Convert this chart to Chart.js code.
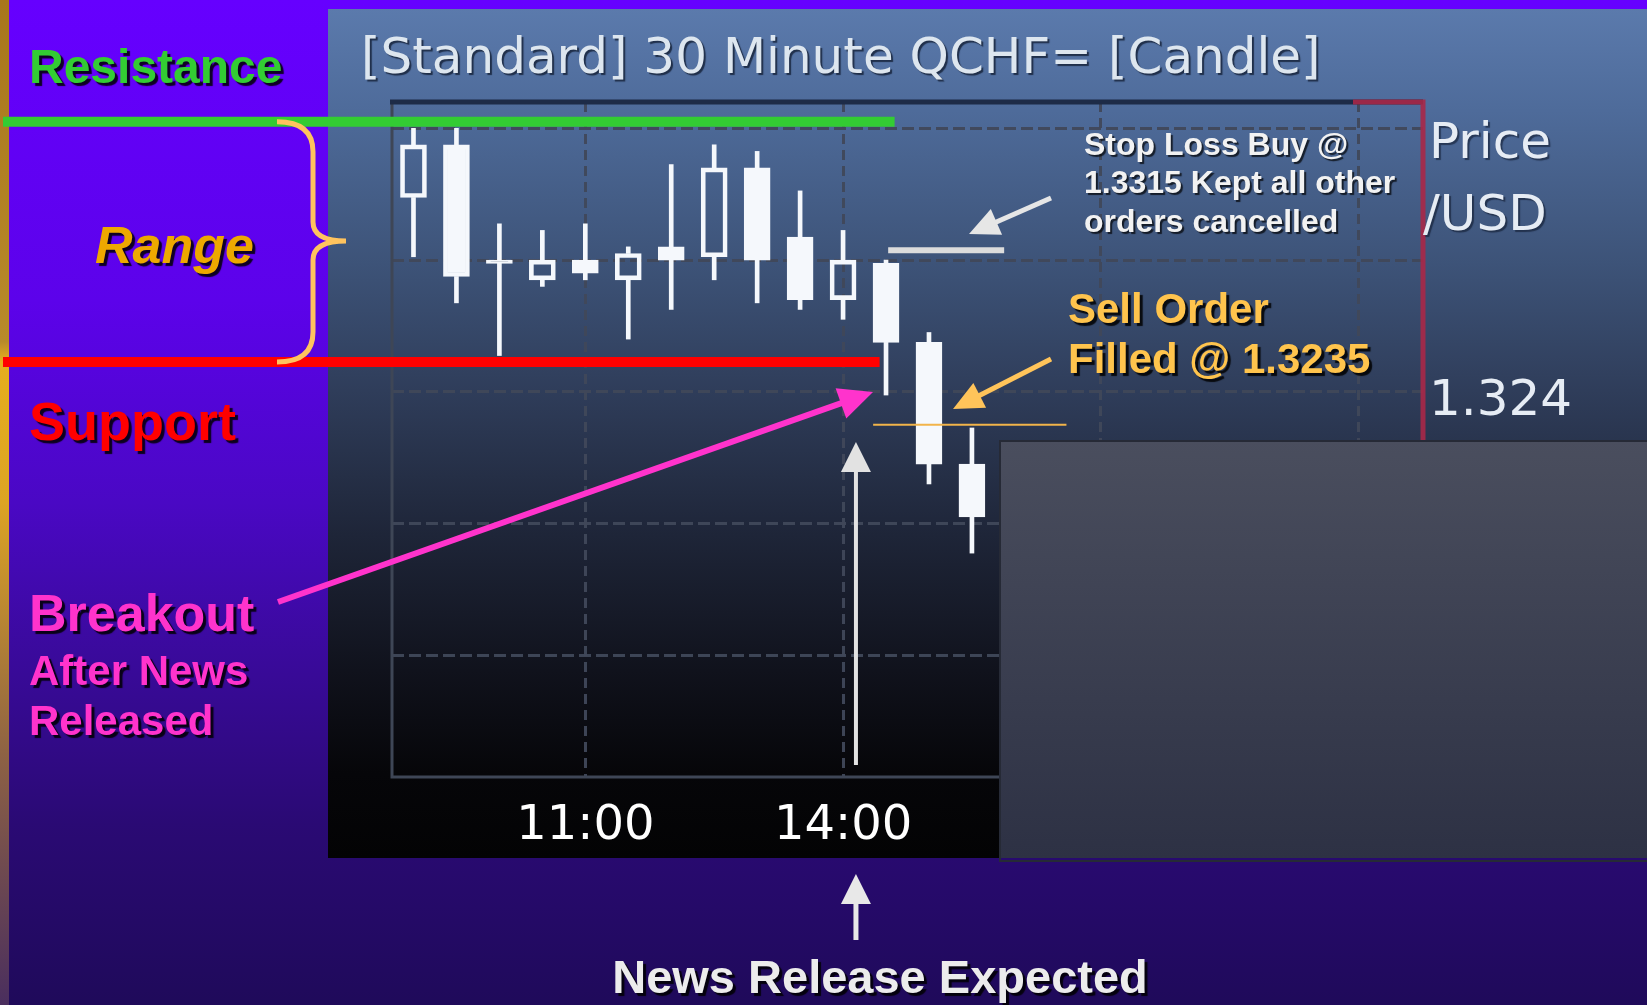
<!DOCTYPE html>
<html>
<head>
<meta charset="utf-8">
<title>30 Minute QCHF= Candle</title>
<script src="https://cdn.jsdelivr.net/npm/chart.js@4.4.1/dist/chart.umd.min.js"></script>
<style>
  html, body { margin: 0; padding: 0; background: #1f0a5a; overflow: hidden; }
  #chart { display: block; }
</style>
</head>
<body>
<canvas id="chart" width="1647" height="1005"></canvas>
<script>
// 30 minute candles, session starts 09:00
var timeLabels = ['09:00', '09:30', '10:00', '10:30', '11:00', '11:30', '12:00', '12:30',
                  '13:00', '13:30', '14:00', '14:30', '15:00', '15:30', '16:00', '16:30',
                  '17:00', '17:30', '18:00', '18:30', '19:00', '19:30', '20:00', '20:30'];
var shownTimes = ['11:00', '14:00', '17:00', '20:00'];

var opens  = [1.3299, 1.3315, 1.3280, 1.3274, 1.3280, 1.3274, 1.3284, 1.3281, 1.3308, 1.3287, 1.3268, 1.3279, 1.3255, 1.3218];
var highs  = [1.3320, 1.3320, 1.3291, 1.3289, 1.3291, 1.3284, 1.3309, 1.3315, 1.3313, 1.3301, 1.3289, 1.3280, 1.3258, 1.3229];
var lows   = [1.3281, 1.3267, 1.3251, 1.3272, 1.3274, 1.3256, 1.3265, 1.3274, 1.3267, 1.3265, 1.3262, 1.3239, 1.3212, 1.3191];
var closes = [1.3315, 1.3275, 1.3279, 1.3280, 1.3276, 1.3282, 1.3280, 1.3308, 1.3280, 1.3268, 1.3280, 1.3255, 1.3218, 1.3202];

var priceTicks = [1.316, 1.320, 1.324, 1.328, 1.332];
var shownPrice = 1.324;

// levels marked on the slide
var resistance = 1.3322;
var support = 1.3249;
var stopLossLevel = 1.3283;
var sellFillLevel = 1.3230;

var candleWhite = '#f5f8fc';
var gridColor = 'rgba(64,72,90,0.95)';

function drawText(ctx, text, x, y, font, color, align, shadowColor, off) {
  ctx.save();
  ctx.font = font;
  ctx.fillStyle = color;
  ctx.textAlign = align || 'left';
  ctx.textBaseline = 'alphabetic';
  ctx.shadowColor = shadowColor || 'rgba(0,0,0,0.85)';
  ctx.shadowOffsetX = off == null ? 3 : off;
  ctx.shadowOffsetY = off == null ? 3 : off;
  ctx.shadowBlur = 1;
  ctx.fillText(text, x, y);
  ctx.restore();
}

function drawArrow(ctx, x1, y1, x2, y2, color, width, headLen, headHalf) {
  var ang = Math.atan2(y2 - y1, x2 - x1);
  var cos = Math.cos(ang), sin = Math.sin(ang);
  var bx = x2 - headLen * cos, by = y2 - headLen * sin;
  ctx.save();
  ctx.strokeStyle = color;
  ctx.fillStyle = color;
  ctx.lineWidth = width;
  ctx.beginPath();
  ctx.moveTo(x1, y1);
  ctx.lineTo(bx + 2 * cos, by + 2 * sin);
  ctx.stroke();
  ctx.beginPath();
  ctx.moveTo(x2, y2);
  ctx.lineTo(bx + headHalf * sin, by - headHalf * cos);
  ctx.lineTo(bx - headHalf * sin, by + headHalf * cos);
  ctx.closePath();
  ctx.fill();
  ctx.restore();
}

var slidePlugin = {
  id: 'slide',
  beforeDraw: function(chart) {
    var ctx = chart.ctx, w = chart.width, h = chart.height;
    ctx.save();
    var bg = ctx.createLinearGradient(0, 0, 0, h);
    bg.addColorStop(0, '#6600ff');
    bg.addColorStop(0.3, '#5c02ea');
    bg.addColorStop(0.5, '#4a08c4');
    bg.addColorStop(0.65, '#3a0a9c');
    bg.addColorStop(0.82, '#2a0a74');
    bg.addColorStop(1, '#1f0a5a');
    ctx.fillStyle = bg;
    ctx.fillRect(0, 0, w, h);

    var gold = ctx.createLinearGradient(0, 0, 0, h);
    gold.addColorStop(0, '#a8761c');
    gold.addColorStop(0.34, '#b88a2a');
    gold.addColorStop(0.36, '#e6ae1e');
    gold.addColorStop(0.5, '#dca424');
    gold.addColorStop(0.75, '#8e6244');
    gold.addColorStop(1, '#4a2e5e');
    ctx.fillStyle = gold;
    ctx.fillRect(0, 0, 9, h);

    // the chart screenshot
    var pg = ctx.createLinearGradient(0, 9, 0, 858);
    pg.addColorStop(0, '#5b7aac');
    pg.addColorStop(0.12, '#4e6b9a');
    pg.addColorStop(0.3, '#3d5378');
    pg.addColorStop(0.45, '#2f3d5a');
    pg.addColorStop(0.62, '#1e2538');
    pg.addColorStop(0.78, '#10121c');
    pg.addColorStop(0.9, '#060609');
    pg.addColorStop(1, '#030304');
    ctx.fillStyle = pg;
    ctx.fillRect(328, 9, w - 328, 849);
    ctx.restore();

    drawText(ctx, '[Standard] 30 Minute QCHF= [Candle]', 361, 73, '50px "DejaVu Sans"',
             '#dde6ef', 'left', 'rgba(15,25,45,0.75)', 2);
  },
  beforeDatasetsDraw: function(chart) {
    var ctx = chart.ctx, a = chart.chartArea;
    ctx.save();
    ctx.lineWidth = 3;
    ctx.strokeStyle = '#3e4656';
    ctx.beginPath();
    ctx.moveTo(a.left, a.top);
    ctx.lineTo(a.left, a.bottom);
    ctx.lineTo(a.right, a.bottom);
    ctx.stroke();
    ctx.lineWidth = 5;
    ctx.strokeStyle = '#1d2b47';
    ctx.beginPath();
    ctx.moveTo(a.left - 2, a.top);
    ctx.lineTo(a.right, a.top);
    ctx.stroke();
    ctx.strokeStyle = 'rgba(168,40,72,0.9)';
    ctx.beginPath();
    ctx.moveTo(a.right - 70, a.top);
    ctx.lineTo(a.right, a.top);
    ctx.lineTo(a.right, a.bottom);
    ctx.stroke();
    ctx.restore();
  },
  afterDraw: function(chart) {
    var ctx = chart.ctx, xs = chart.scales.x, ys = chart.scales.y, w = chart.width;

    // grey panel pasted over the lower right of the screenshot
    ctx.save();
    var box = ctx.createLinearGradient(0, 441, 0, 858);
    box.addColorStop(0, '#4a4e5e');
    box.addColorStop(1, '#2d3144');
    ctx.fillStyle = box;
    ctx.fillRect(1000, 441, w - 1000, 417);
    ctx.strokeStyle = '#262a36';
    ctx.lineWidth = 2;
    ctx.strokeRect(1000, 441, w - 999, 420);
    ctx.restore();

    drawText(ctx, 'Price', 1429, 158, '50px "DejaVu Sans"', '#e6ecf4', 'left', 'rgba(15,25,45,0.6)', 2);
    drawText(ctx, '/USD', 1423, 230, '50px "DejaVu Sans"', '#e6ecf4', 'left', 'rgba(15,25,45,0.6)', 2);

    // resistance and support
    ctx.save();
    ctx.lineWidth = 10;
    ctx.strokeStyle = '#33cc33';
    var yr = ys.getPixelForValue(resistance);
    ctx.beginPath(); ctx.moveTo(3, yr); ctx.lineTo(xs.getPixelForValue(11.2), yr); ctx.stroke();
    ctx.strokeStyle = '#ff0000';
    var ysup = ys.getPixelForValue(support);
    ctx.beginPath(); ctx.moveTo(3, ysup); ctx.lineTo(xs.getPixelForValue(10.85), ysup); ctx.stroke();

    // stop loss and sell fill levels
    ctx.lineWidth = 6;
    ctx.strokeStyle = '#dcdcdc';
    var ysl = ys.getPixelForValue(stopLossLevel);
    ctx.beginPath(); ctx.moveTo(xs.getPixelForValue(11.05), ysl); ctx.lineTo(xs.getPixelForValue(13.75), ysl); ctx.stroke();
    ctx.lineWidth = 2;
    ctx.strokeStyle = '#f2b44a';
    var ysf = ys.getPixelForValue(sellFillLevel);
    ctx.beginPath(); ctx.moveTo(xs.getPixelForValue(10.7), ysf); ctx.lineTo(xs.getPixelForValue(15.2), ysf); ctx.stroke();

    // brace marking the range
    ctx.lineWidth = 5;
    ctx.strokeStyle = '#ffc35e';
    ctx.beginPath();
    ctx.moveTo(277, yr);
    ctx.quadraticCurveTo(313, yr, 313, yr + 30);
    ctx.lineTo(313, 222);
    ctx.quadraticCurveTo(313, 241, 346, 241);
    ctx.quadraticCurveTo(313, 241, 313, 260);
    ctx.lineTo(313, ysup - 30);
    ctx.quadraticCurveTo(313, ysup, 277, ysup);
    ctx.stroke();
    ctx.restore();

    drawText(ctx, 'Resistance', 29, 83, 'bold 48px "Liberation Sans"', '#33cc33');
    drawText(ctx, 'Range', 95, 263, 'italic bold 52px "Liberation Sans"', '#eda800');
    drawText(ctx, 'Support', 29, 440, 'bold 54px "Liberation Sans"', '#ff0000');
    drawText(ctx, 'Breakout', 29, 631, 'bold 52px "Liberation Sans"', '#ff33cc');
    drawText(ctx, 'After News', 29, 685, 'bold 42px "Liberation Sans"', '#ff33cc');
    drawText(ctx, 'Released', 29, 735, 'bold 42px "Liberation Sans"', '#ff33cc');

    drawText(ctx, 'Stop Loss Buy @', 1084, 155, 'bold 32px "Liberation Sans"', '#f2f2f2', 'left', 'rgba(0,0,0,0.7)', 2);
    drawText(ctx, '1.3315 Kept all other', 1084, 193, 'bold 32px "Liberation Sans"', '#f2f2f2', 'left', 'rgba(0,0,0,0.7)', 2);
    drawText(ctx, 'orders cancelled', 1084, 232, 'bold 32px "Liberation Sans"', '#f2f2f2', 'left', 'rgba(0,0,0,0.7)', 2);
    drawText(ctx, 'Sell Order', 1068, 323, 'bold 42px "Liberation Sans"', '#ffc44d');
    drawText(ctx, 'Filled @ 1.3235', 1068, 373, 'bold 42px "Liberation Sans"', '#ffc44d');

    var xn = xs.getPixelForValue(10.3);
    drawArrow(ctx, 1051, 198, 969, 234, '#e6e6e6', 5, 30, 14);
    drawArrow(ctx, 1051, 359, 953, 409, '#ffc45a', 5, 30, 14);
    drawArrow(ctx, 278, 602, 873, 392, '#ff33cc', 6, 34, 16);
    drawArrow(ctx, xn, 765, xn, 442, '#e2e2e2', 4, 30, 15);
    drawArrow(ctx, xn, 940, xn, 874, '#e8e8e8', 5, 30, 15);

    drawText(ctx, 'News Release Expected', 880, 993, 'bold 47px "Liberation Sans"', '#ececec', 'center');
  }
};

var bodies = opens.map(function(o, i) { return [Math.min(o, closes[i]), Math.max(o, closes[i])]; });
var upperWicks = highs.map(function(h, i) { return [Math.max(opens[i], closes[i]), h]; });
var lowerWicks = lows.map(function(l, i) { return [l, Math.min(opens[i], closes[i])]; });
var bodyFill = opens.map(function(o, i) { return closes[i] > o ? 'rgba(0,0,0,0)' : candleWhite; });

new Chart(document.getElementById('chart'), {
  type: 'bar',
  data: {
    labels: timeLabels,
    datasets: [
      { label: 'body', data: bodies, backgroundColor: bodyFill, borderColor: candleWhite,
        borderWidth: 4, borderSkipped: false, barThickness: 26, grouped: false, order: 0 },
      { label: 'upper wick', data: upperWicks, backgroundColor: candleWhite, borderWidth: 0,
        barThickness: 4, grouped: false, order: 1 },
      { label: 'lower wick', data: lowerWicks, backgroundColor: candleWhite, borderWidth: 0,
        barThickness: 4, grouped: false, order: 1 }
    ]
  },
  options: {
    responsive: false,
    animation: false,
    devicePixelRatio: 1,
    layout: { padding: { left: 392, top: 102, right: 0, bottom: 0 } },
    plugins: { legend: { display: false }, tooltip: { enabled: false } },
    scales: {
      x: {
        type: 'category',
        offset: true,
        grid: {
          offset: false,
          drawTicks: false,
          lineWidth: 3,
          color: function(c) {
            return shownTimes.indexOf(timeLabels[c.tick.value]) >= 0 ? gridColor : 'rgba(0,0,0,0)';
          }
        },
        border: { display: false, dash: [10, 6] },
        ticks: {
          autoSkip: false,
          maxRotation: 0,
          minRotation: 0,
          padding: 21,
          color: '#ffffff',
          font: { family: 'DejaVu Sans', size: 48 },
          callback: function(v) {
            var t = this.getLabelForValue(v);
            return shownTimes.indexOf(t) >= 0 ? t : '';
          }
        },
        afterFit: function(s) { s.height = 228; }
      },
      y: {
        position: 'right',
        min: 1.3123,
        max: 1.3328,
        afterBuildTicks: function(s) {
          s.ticks = priceTicks.map(function(v) { return { value: v }; });
        },
        grid: { drawTicks: false, lineWidth: 3, color: gridColor },
        border: { display: false, dash: [12, 5] },
        ticks: {
          padding: 6,
          labelOffset: 10,
          color: '#e6ecf4',
          font: { family: 'DejaVu Sans', size: 50 },
          callback: function(v) {
            return Math.abs(v - shownPrice) < 1e-9 ? shownPrice.toFixed(3) : '';
          }
        },
        afterFit: function(s) { s.width = 224; }
      }
    }
  },
  plugins: [slidePlugin]
});
</script>
</body>
</html>
